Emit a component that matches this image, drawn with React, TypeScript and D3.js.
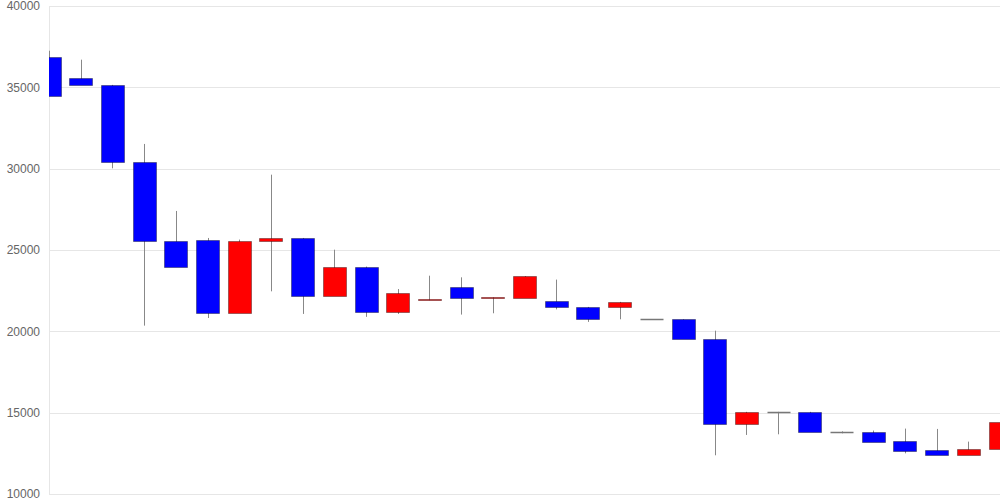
import React from "react";
import * as d3 from "d3";

const opens = [36840, 35600, 35150, 30400, 25530, 25620, 21130, 25580, 25740, 22180, 23980, 21190, 21910, 22730, 22030, 22050, 21890, 21500, 21480, 20750, 20740, 19530, 14310, 15050, 15050, 13840, 13830, 13240, 12690, 12420, 12750];
const closes = [34470, 35150, 30400, 25530, 23980, 21130, 25575, 25730, 22180, 23980, 21190, 22340, 21970, 22030, 22090, 23400, 21480, 20740, 21810, 20750, 19530, 14310, 15050, 15050, 13820, 13840, 13220, 12670, 12420, 12750, 14430];
const highs = [37250, 36700, 35150, 31520, 27400, 25740, 25640, 29630, 25740, 25020, 23980, 22600, 23420, 23320, 22090, 23400, 23180, 21500, 21810, 20750, 20740, 20040, 15050, 15050, 15050, 13850, 13900, 14020, 14000, 13220, 14430];
const lows = [34470, 35150, 30020, 20350, 23980, 20820, 21130, 22460, 21070, 22180, 20890, 21070, 21910, 21030, 21110, 22050, 21350, 20580, 20740, 20750, 19530, 12380, 13630, 13670, 13820, 13730, 13220, 12500, 12420, 12420, 12400];
const yTicks = [10000, 15000, 20000, 25000, 30000, 35000, 40000];

const W = 1000;
const H = 500;
const left = 49;
const right = 1000;

export default function App() {
  const n = opens.length;
  const x = d3.scaleLinear().domain([0, n - 1]).range([left, right]);
  const y = d3.scaleLinear().domain([10000, 40000]).range([494, 6]);
  const bw = 23;
  const crisp = (v: number) => Math.round(v) + 0.5;

  return (
    <svg
      width={W}
      height={H}
      style={{ position: "absolute", left: 0, top: 0, fontFamily: "'Liberation Sans', Arial, sans-serif" }}
    >
      <defs>
        <clipPath id="plot">
          <rect x={left} y={0} width={right - left} height={H} />
        </clipPath>
      </defs>
      <rect x={0} y={0} width={W} height={H} fill="#fff" />
      {yTicks.map((t) => (
        <g key={t}>
          <line x1={left} x2={right} y1={crisp(y(t))} y2={crisp(y(t))} stroke="#e6e6e6" strokeWidth={1} />
          <text x={40} y={y(t)} dy="0.35em" textAnchor="end" fontSize={12} fill="#666">
            {t}
          </text>
        </g>
      ))}
      <line x1={left + 0.5} x2={left + 0.5} y1={y(40000)} y2={y(10000)} stroke="#e6e6e6" strokeWidth={1} />
      <g clipPath="url(#plot)">
        {opens.map((o, i) => {
          const c = closes[i];
          const cx = x(i);
          const wx = crisp(cx);
          const top = y(Math.max(o, c));
          const bot = y(Math.min(o, c));
          const up = c > o;
          const flat = Math.abs(c - o) < 1;
          const fill = up ? "#ff0000" : "#0000ff";
          const bx = Math.round(cx - bw / 2) + 0.5;
          return (
            <g key={i}>
              <line x1={wx} x2={wx} y1={y(highs[i])} y2={y(lows[i])} stroke="#888" strokeWidth={1} />
              {flat ? (
                <line x1={bx} x2={bx + bw} y1={crisp(top)} y2={crisp(top)} stroke="#777" strokeWidth={1.5} />
              ) : (
                <rect
                  x={bx}
                  y={Math.round(top) + 0.5}
                  width={bw}
                  height={Math.max(1, Math.round(bot) - Math.round(top))}
                  fill={fill}
                  stroke="rgba(0,0,0,0.35)"
                  strokeWidth={1}
                />
              )}
            </g>
          );
        })}
      </g>
    </svg>
  );
}
